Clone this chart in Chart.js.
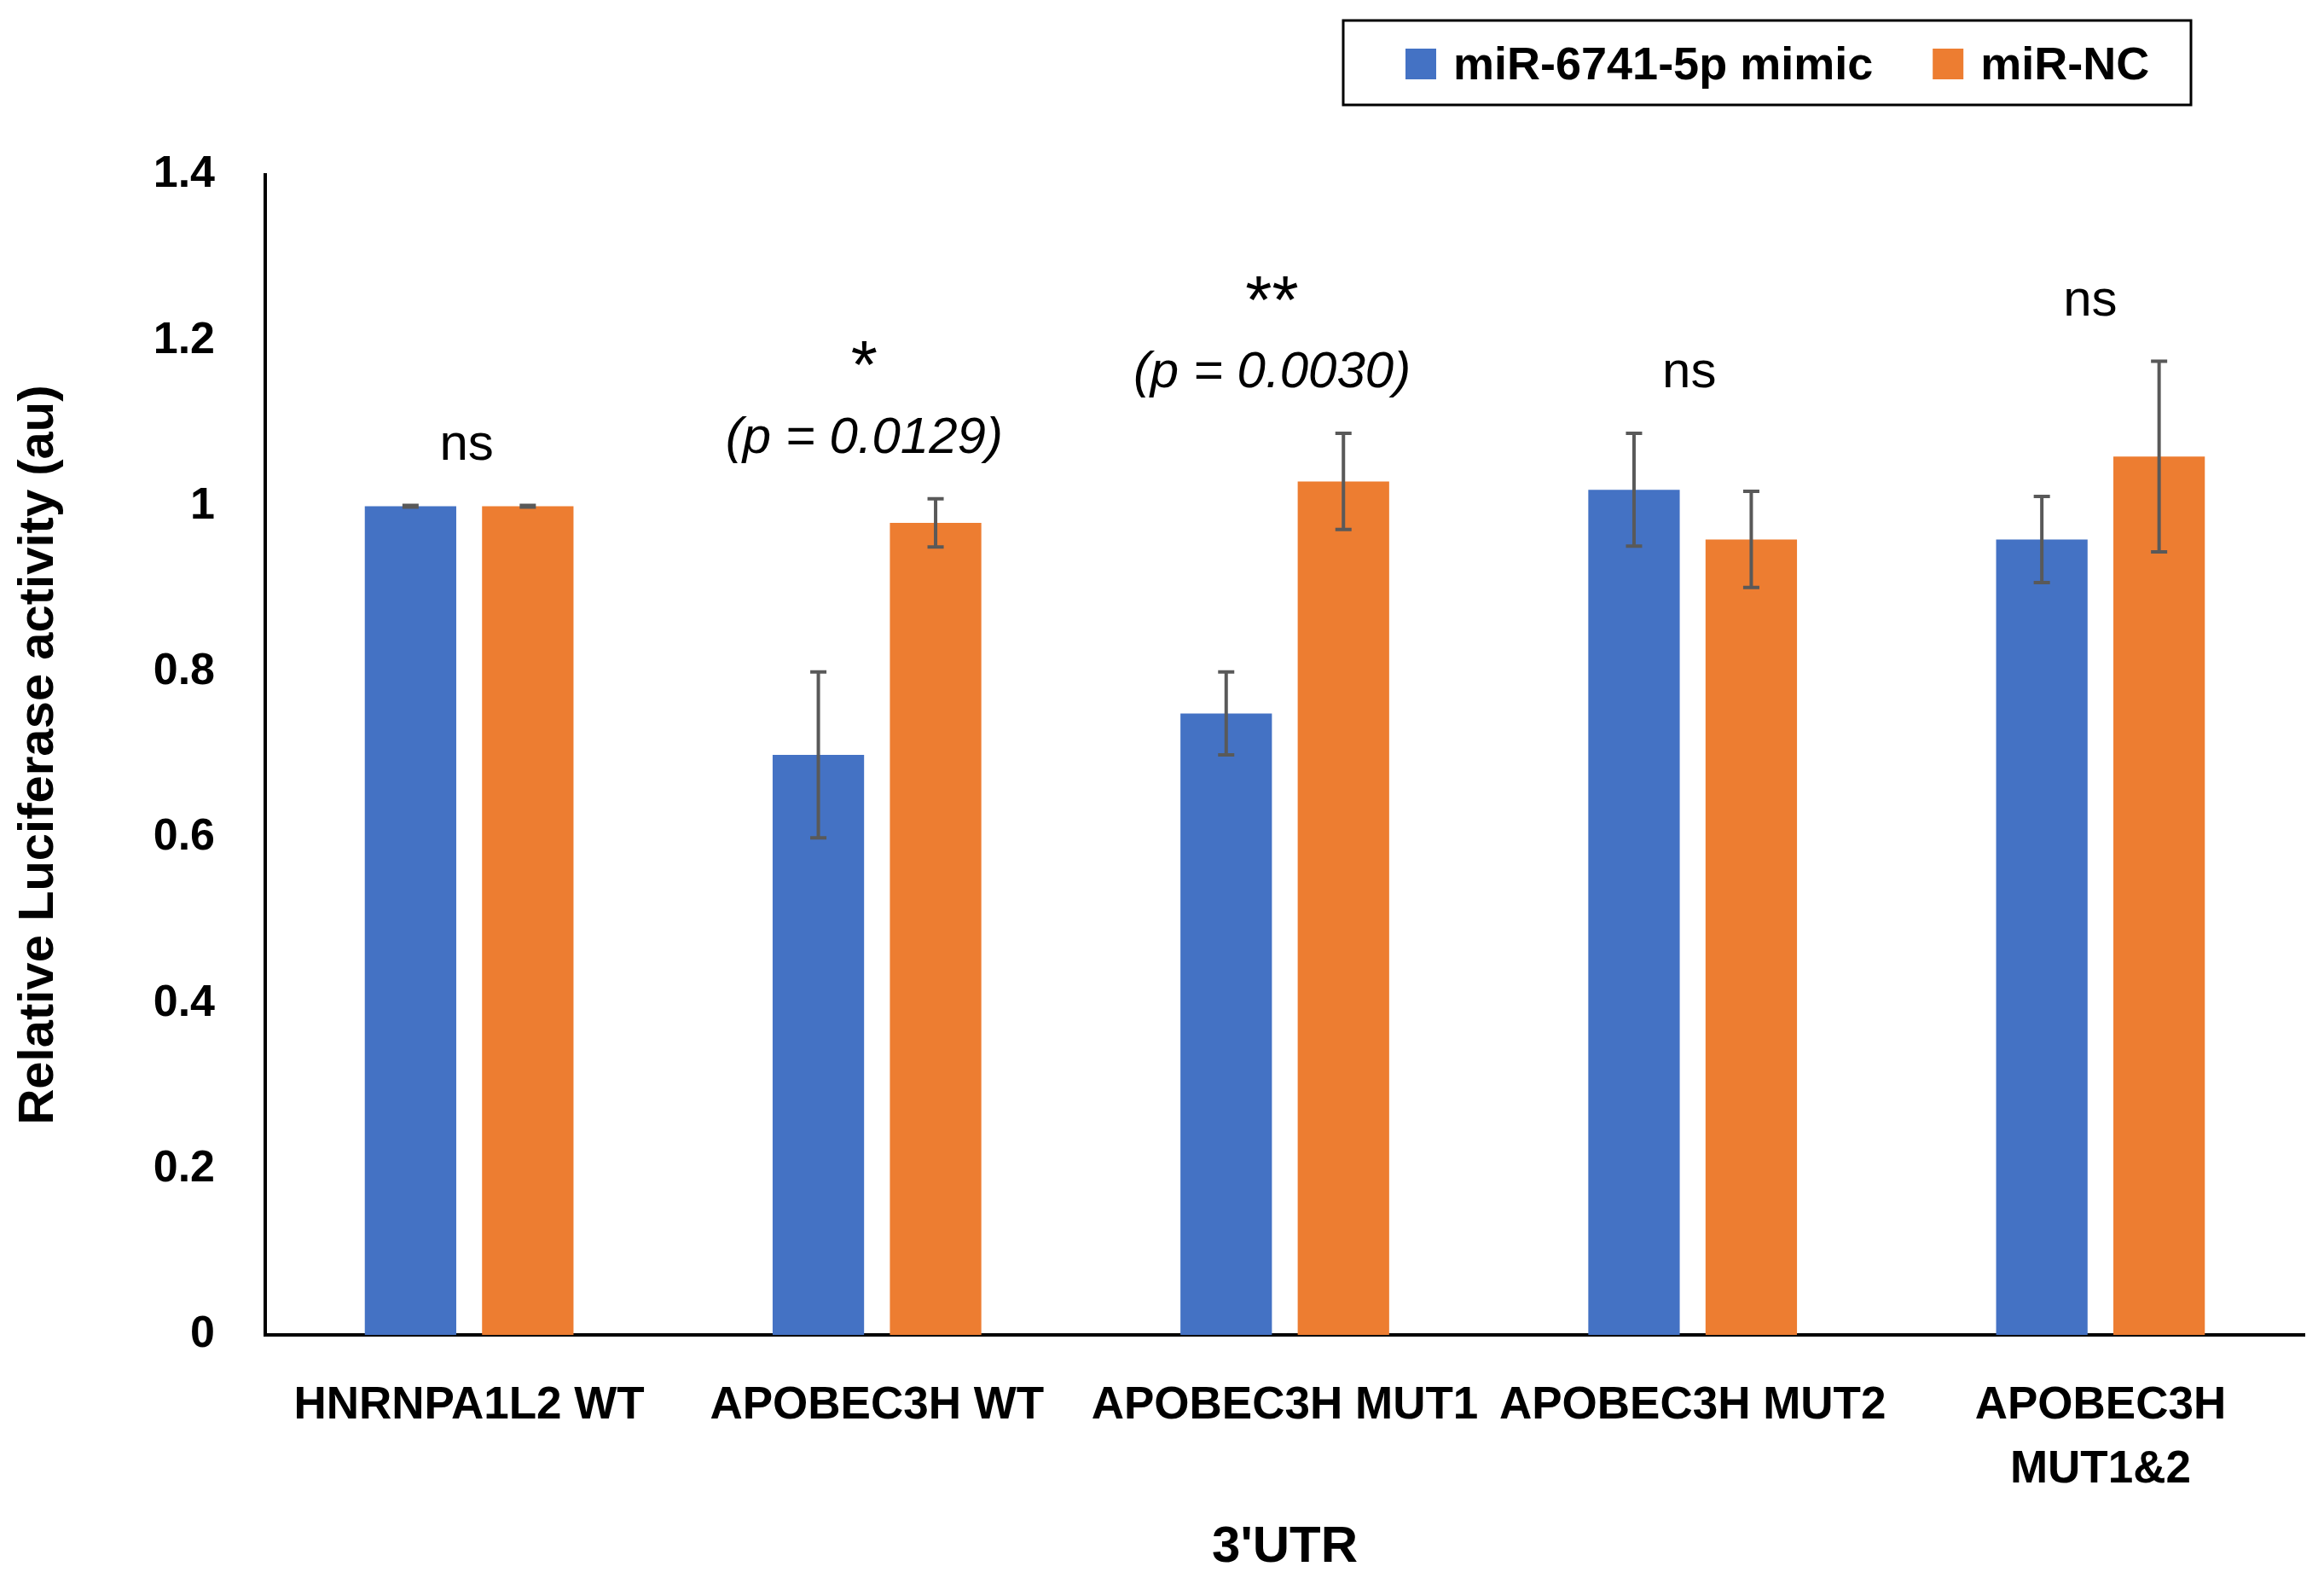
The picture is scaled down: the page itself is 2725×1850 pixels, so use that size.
<!DOCTYPE html>
<html>
<head>
<meta charset="utf-8">
<script src="https://cdn.jsdelivr.net/npm/chart.js@4.4.1/dist/chart.umd.min.js"></script>
<style>
    html, body { margin: 0; padding: 0; background: #fff; }
    #wrap { width: 2725px; height: 1850px; }
</style>
</head>
<body>
<div id="wrap"><canvas id="lucChart" width="2725" height="1850"></canvas></div>
<script>
// values
const categories = ['HNRNPA1L2 WT', 'APOBEC3H WT', 'APOBEC3H MUT1', 'APOBEC3H MUT2', ['APOBEC3H', 'MUT1&2']];
const mimicValues = [1.00, 0.70, 0.75, 1.02, 0.96];
const mimicErrors = [0.001, 0.10, 0.05, 0.068, 0.052];
const ncValues = [1.00, 0.98, 1.03, 0.96, 1.06];
const ncErrors = [0.001, 0.029, 0.058, 0.058, 0.115];
const sigMarks = ['ns', '*', '**', 'ns', 'ns'];
const pValues = ['', '0.0129', '0.0030', '', ''];
const yTicks = ['0', '0.2', '0.4', '0.6', '0.8', '1', '1.2', '1.4'];

const FONT = '"Liberation Sans", Arial, sans-serif';
Chart.defaults.font.family = FONT;
Chart.defaults.color = '#000';

// whiskers drawn on top of the bars
const errorBars = {
    id: 'errorBars',
    afterDatasetsDraw(chart) {
        const ctx = chart.ctx;
        const y = chart.scales.y;
        ctx.save();
        ctx.strokeStyle = '#595959';
        ctx.lineWidth = 4;
        chart.data.datasets.forEach((ds, i) => {
            chart.getDatasetMeta(i).data.forEach((bar, j) => {
                const top = y.getPixelForValue(ds.data[j] + ds.errors[j]);
                const bot = y.getPixelForValue(ds.data[j] - ds.errors[j]);
                ctx.beginPath();
                ctx.moveTo(bar.x, top); ctx.lineTo(bar.x, bot);
                ctx.moveTo(bar.x - 9.5, top); ctx.lineTo(bar.x + 9.5, top);
                ctx.moveTo(bar.x - 9.5, bot); ctx.lineTo(bar.x + 9.5, bot);
                ctx.stroke();
            });
        });
        ctx.restore();
    }
};

// ns / * / ** and the p values above each group
const sigLabels = {
    id: 'sigLabels',
    afterDraw(chart) {
        const ctx = chart.ctx;
        const x = chart.scales.x, y = chart.scales.y;
        const nudge = [-3, -15, -15, -4, -12]; // text boxes sit a little left of centre
        ctx.save();
        ctx.fillStyle = '#000';
        ctx.textAlign = 'left';
        ctx.textBaseline = 'alphabetic';
        categories.forEach((c, j) => {
            const cx = x.getPixelForValue(j) + nudge[j];
            const peak = Math.max(...chart.data.datasets.map(ds => ds.data[j] + ds.errors[j]));
            const base = y.getPixelForValue(peak) - 54;
            if (pValues[j]) {
                ctx.font = 'italic 60px ' + FONT;
                const txt = '(p = ' + pValues[j] + ')';
                ctx.fillText(txt, cx - ctx.measureText(txt).width / 2, base);
                ctx.font = '80px ' + FONT;
                const m = ctx.measureText(sigMarks[j]);
                const cy = base - 116;
                ctx.fillText(sigMarks[j], cx - m.width / 2, cy + (m.actualBoundingBoxAscent - m.actualBoundingBoxDescent) / 2);
            } else {
                ctx.font = '60px ' + FONT;
                ctx.fillText(sigMarks[j], cx - ctx.measureText(sigMarks[j]).width / 2, base);
            }
        });
        ctx.restore();
    }
};

// boxed legend in the top right
const boxLegend = {
    id: 'boxLegend',
    afterDraw(chart) {
        const ctx = chart.ctx;
        ctx.save();
        ctx.lineWidth = 3;
        ctx.strokeStyle = '#000';
        ctx.strokeRect(1575, 24, 994, 99);
        ctx.font = 'bold 54px ' + FONT;
        ctx.textBaseline = 'alphabetic';
        let lx = 1648;
        chart.data.datasets.forEach(ds => {
            ctx.fillStyle = ds.backgroundColor;
            ctx.fillRect(lx, 57, 36, 36);
            ctx.fillStyle = '#000';
            ctx.fillText(ds.label, lx + 56, 93);
            lx += 56 + ctx.measureText(ds.label).width + 70;
        });
        ctx.restore();
    }
};

new Chart(document.getElementById('lucChart'), {
    type: 'bar',
    data: {
        labels: categories,
        datasets: [
            { label: 'miR-6741-5p mimic', data: mimicValues, errors: mimicErrors, backgroundColor: '#4472C4' },
            { label: 'miR-NC', data: ncValues, errors: ncErrors, backgroundColor: '#ED7D31' }
        ]
    },
    options: {
        responsive: false,
        animation: false,
        layout: { padding: { left: 0, right: 23, top: 205, bottom: 0 } },
        datasets: { bar: { categoryPercentage: 0.575, barPercentage: 0.78, borderWidth: 0 } },
        plugins: { legend: { display: false }, tooltip: { enabled: false } },
        scales: {
            x: {
                grid: { display: false, drawTicks: false },
                border: { display: true, color: '#000', width: 4 },
                ticks: {
                    color: '#000', padding: 46, maxRotation: 0, minRotation: 0, autoSkip: false,
                    font: { size: 53, weight: 'bold', lineHeight: 1.42 }
                },
                title: {
                    display: true, text: "3'UTR", color: '#000',
                    font: { size: 60, weight: 'bold', lineHeight: 1 },
                    padding: { top: 0, bottom: 6 }
                },
                afterFit(scale) { scale.height = 285; }
            },
            y: {
                min: 0, max: 1.4,
                grid: { display: false, drawTicks: false },
                border: { display: true, color: '#000', width: 4 },
                ticks: {
                    stepSize: 0.2, color: '#000', padding: 59,
                    font: { size: 52, weight: 'bold' },
                    callback: (v, i) => yTicks[i]
                },
                title: {
                    display: true, text: 'Relative Luciferase activity (au)', color: '#000',
                    font: { size: 58, weight: 'bold', lineHeight: 1 },
                    padding: { top: 17, bottom: 0 }
                },
                afterFit(scale) { scale.width = 311; }
            }
        }
    },
    plugins: [errorBars, sigLabels, boxLegend]
});
</script>
</body>
</html>
